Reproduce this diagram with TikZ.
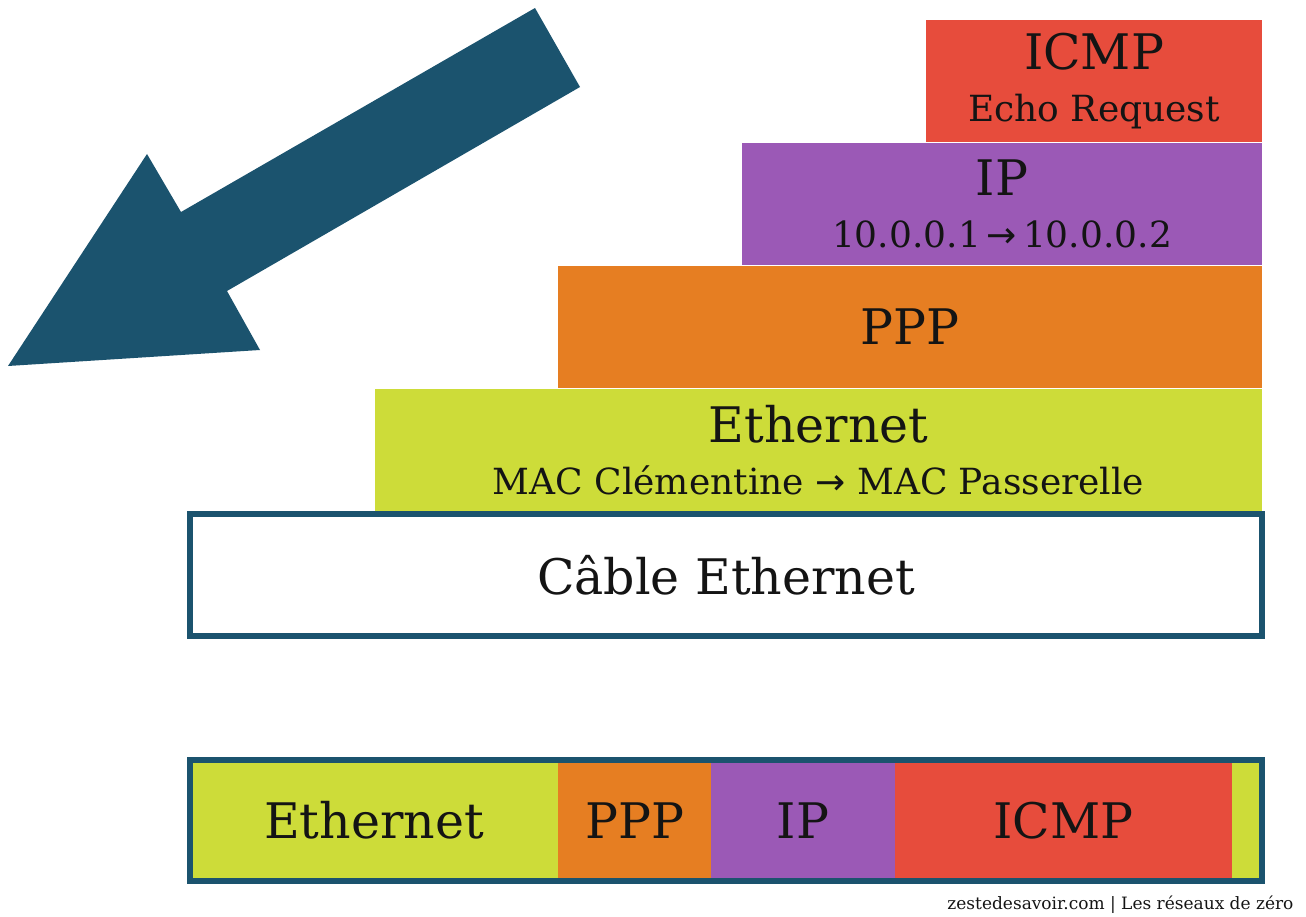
\documentclass[tikz,border=0pt]{standalone}
\usepackage{fontspec}
\setmainfont{DejaVu Serif}
\newfontfamily\arrowfont{DejaVu Sans}
\usetikzlibrary{positioning}

\definecolor{petrol}{RGB}{27,83,110}
\definecolor{icmpred}{RGB}{231,76,60}
\definecolor{ipviolet}{RGB}{155,89,182}
\definecolor{pppor}{RGB}{230,126,34}
\definecolor{ethlime}{RGB}{205,220,57}
\definecolor{ink}{RGB}{20,20,20}

\newcommand{\toarrow}{{\arrowfont\char"2192}}
\newcommand{\bigtxt}{\fontsize{49}{52}\selectfont}
\newcommand{\smalltxt}{\fontsize{36}{47}\selectfont}

\begin{document}
\begin{tikzpicture}[x=1pt,y=-1pt,
	layer/.style={rectangle,inner sep=0pt,outer sep=0pt,minimum height=122pt,anchor=north west,align=center,text=ink,font=\bigtxt},
	seg/.style={layer,minimum height=121pt},
	edge/.style={draw=petrol,line width=6pt}]
	\useasboundingbox (0,0) rectangle (1306,917);

	% big arrow
	\fill[petrol] (535,8) -- (580,87) -- (227,291) -- (260,350) -- (8,366) -- (147,154) -- (181,212) -- cycle;

	% the stack
	\node[layer,fill=icmpred,minimum width=336pt] (icmp) at (926,20) {ICMP\\\smalltxt Echo Request};
	\node[layer,fill=ipviolet,minimum width=520pt] (ip) at (742,143) {IP\\\smalltxt 10.0.0.1\,\toarrow\,10.0.0.2};
	\node[layer,fill=pppor,minimum width=704pt] (ppp) at (558,266) {PPP};
	\node[layer,fill=ethlime,minimum width=887pt] (eth) at (375,389) {Ethernet\\\smalltxt MAC Clémentine \toarrow{} MAC Passerelle};
	\node[layer,fill=white,minimum width=1072pt,edge] (cable) at (190,514) {Câble Ethernet};

	% the frame on the wire
	\node[seg,fill=ethlime,minimum width=368pt] (segEth) at (190,760) {Ethernet};
	\node[seg,fill=pppor,minimum width=153pt,right=0pt of segEth] (segPpp) {PPP};
	\node[seg,fill=ipviolet,minimum width=184pt,right=0pt of segPpp] (segIp) {IP};
	\node[seg,fill=icmpred,minimum width=337pt,right=0pt of segIp] (segIcmp) {ICMP};
	\node[seg,fill=ethlime,minimum width=30pt,right=0pt of segIcmp] (segEnd) {};
	\draw[edge] (segEth.north west) rectangle (segEnd.south east);

	\node[anchor=east,text=ink,font=\fontsize{17}{20}\selectfont] (credit) at (1297,905) {zestedesavoir.com | Les réseaux de zéro};
\end{tikzpicture}
\end{document}
